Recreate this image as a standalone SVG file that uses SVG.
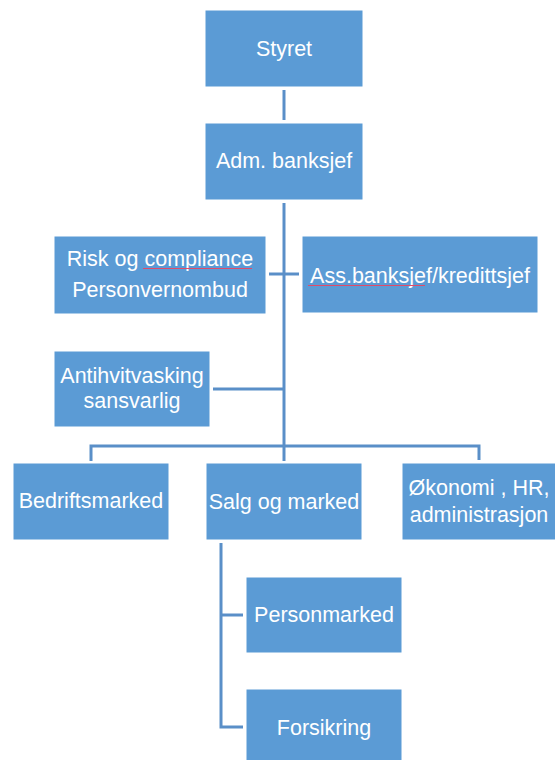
<svg xmlns="http://www.w3.org/2000/svg" width="555" height="760" viewBox="0 0 555 760">
<style>
.box{fill:#5b9bd5;stroke:#ffffff;stroke-width:1}
.t{font-family:"Liberation Sans",Arial,sans-serif;font-size:21.5px;fill:#ffffff;text-anchor:middle}
.c{fill:none;stroke:#5a8fc8;stroke-width:3}
.sp{fill:none;stroke:#e04b6a;stroke-width:1}
</style>
<rect width="555" height="760" fill="#ffffff"/>
<g id="connectors">
<line class="c" x1="284" y1="90" x2="284" y2="120"/>
<line class="c" x1="284" y1="203" x2="284" y2="446"/>
<line class="c" x1="269" y1="274" x2="299" y2="274"/>
<line class="c" x1="213" y1="389" x2="284" y2="389"/>
<polyline class="c" points="91,461 91,446 479,446 479,460"/>
<line class="c" x1="284" y1="446" x2="284" y2="461"/>
<polyline class="c" points="221,543 221,727 243,727"/>
<line class="c" x1="221" y1="615" x2="243" y2="615"/>
</g>
<g id="styret">
<rect class="box" x="205" y="10" width="158" height="77"/>
<text class="t" x="284" y="56">Styret</text>
</g>
<g id="adm">
<rect class="box" x="205" y="123" width="158" height="77"/>
<text class="t" x="284" y="168">Adm. banksjef</text>
</g>
<g id="risk">
<rect class="box" x="54" y="236" width="212" height="78"/>
<text class="t" x="160" y="266">Risk og compliance</text>
<text class="t" x="160" y="297">Personvernombud</text>
<path class="sp" d="M143,268.5 h109"/>
</g>
<g id="ass">
<rect class="box" x="302" y="236" width="236" height="77"/>
<text class="t" x="420" y="283">Ass.banksjef/kredittsjef</text>
<path class="sp" d="M308,285.5 h117"/>
</g>
<g id="anti">
<rect class="box" x="54" y="351" width="156" height="76"/>
<text class="t" x="132" y="383">Antihvitvasking</text>
<text class="t" x="132" y="408">sansvarlig</text>
</g>
<g id="bedrift">
<rect class="box" x="13" y="463" width="156" height="77"/>
<text class="t" x="91" y="508">Bedriftsmarked</text>
</g>
<g id="salg">
<rect class="box" x="206" y="463" width="156" height="77"/>
<text class="t" x="284" y="509">Salg og marked</text>
</g>
<g id="okonomi">
<rect class="box" x="402" y="463" width="156" height="77"/>
<text class="t" x="479" y="495">Økonomi , HR,</text>
<text class="t" x="479" y="522">administrasjon</text>
</g>
<g id="personmarked">
<rect class="box" x="246" y="577" width="156" height="76"/>
<text class="t" x="324" y="622">Personmarked</text>
</g>
<g id="forsikring">
<rect class="box" x="246" y="689" width="156" height="76"/>
<text class="t" x="324" y="735">Forsikring</text>
</g>
</svg>
